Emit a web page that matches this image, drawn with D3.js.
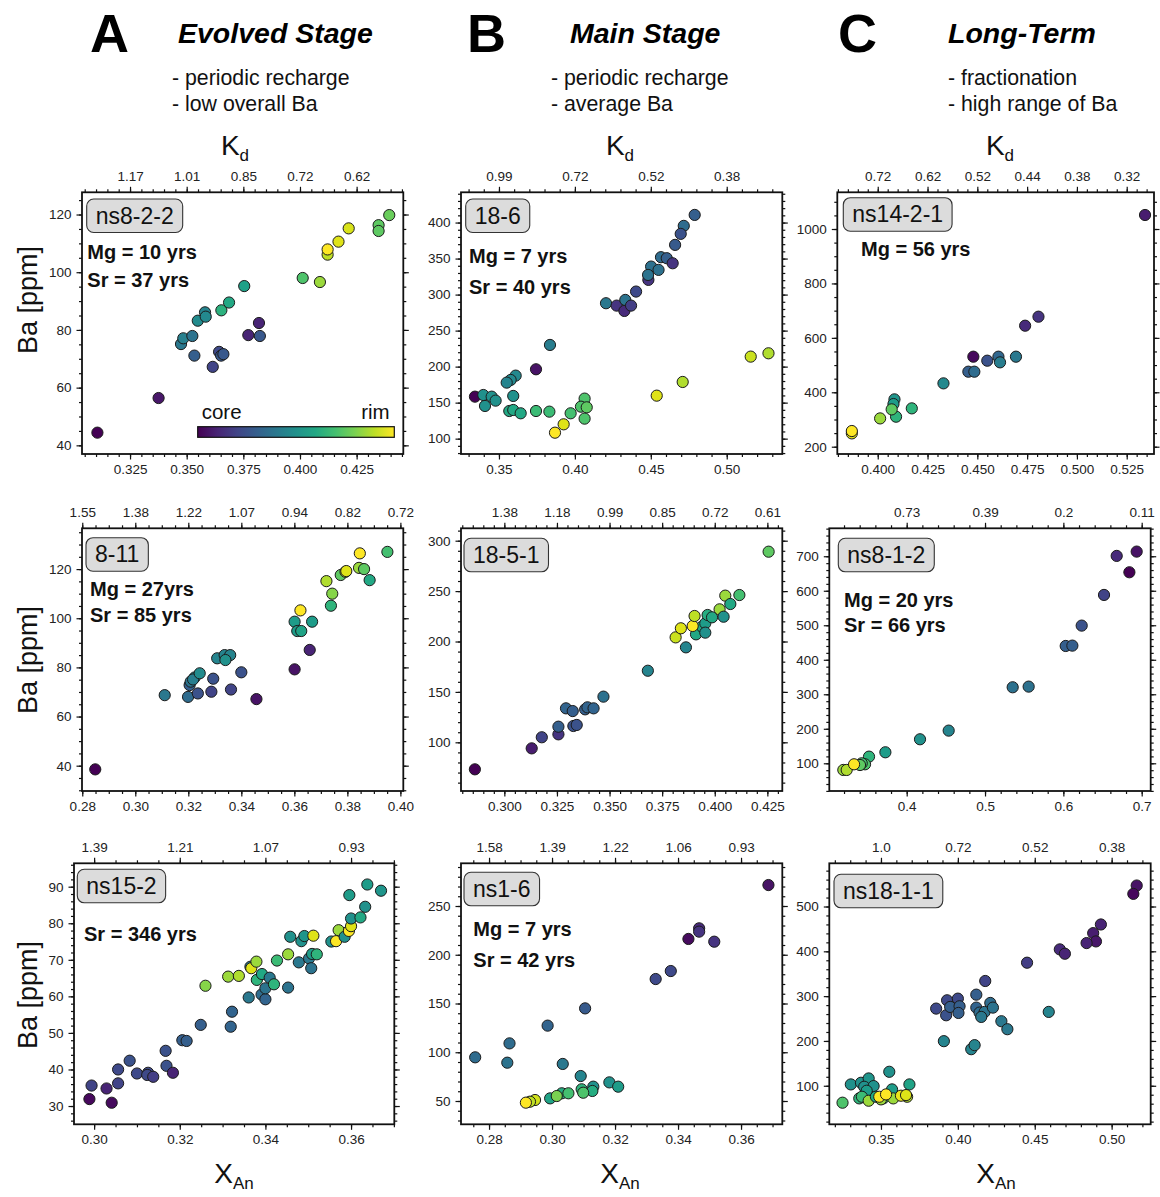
<!DOCTYPE html>
<html>
<head>
<meta charset="utf-8">
<script src="https://cdn.jsdelivr.net/npm/d3@7"></script>
<style>
  body { margin: 0; background: #fff; }
  svg text { font-family: "Liberation Sans", Arial, Helvetica, sans-serif; }
</style>
</head>
<body>
<svg id="chart" width="1160" height="1197"></svg>
<script>
// ---------- measurements: [X_An, Ba (ppm), core→rim position 0..1] ----------
const ns8_2_2 = [
  [0.3106,44.4,0.0],[0.3376,56.4,0.06],[0.3475,75.1,0.4],[0.3485,77.1,0.43],[0.3525,77.9,0.38],
  [0.3534,71.1,0.3],[0.3549,83.2,0.48],[0.3581,86.1,0.45],[0.3584,84.6,0.47],[0.3615,67.2,0.2],
  [0.3643,72.4,0.22],[0.3652,71.1,0.27],[0.3662,71.6,0.27],[0.3653,86.8,0.64],[0.3687,89.5,0.6],
  [0.3754,95.2,0.57],[0.3772,78.2,0.1],[0.3819,82.4,0.1],[0.3823,77.9,0.27],[0.4012,98.0,0.72],
  [0.4088,96.6,0.85],[0.4122,106.1,0.9],[0.4122,107.9,1.0],[0.4170,110.6,0.95],[0.4215,115.2,0.94],
  [0.4347,116.3,0.75],[0.4347,114.3,0.75],[0.4394,119.8,0.77]
];
const s18_6 = [
  [0.4789,410.6,0.3],[0.4717,395.4,0.35],[0.4697,384.3,0.25],[0.4660,369.0,0.28],[0.4567,351.9,0.35],
  [0.4605,350.5,0.3],[0.4644,343.5,0.15],[0.4502,338.9,0.37],[0.4551,334.3,0.37],[0.4484,320.4,0.15],
  [0.4482,327.3,0.38],[0.4403,304.2,0.22],[0.4205,288.0,0.4],[0.4275,284.7,0.15],[0.4326,277.3,0.12],
  [0.4332,292.6,0.38],[0.4370,284.7,0.18],[0.3836,230.1,0.42],[0.3744,196.3,0.05],[0.3610,187.5,0.47],
  [0.3577,181.5,0.47],[0.3551,177.8,0.45],[0.3342,158.3,0.0],[0.3397,160.6,0.5],[0.3452,158.3,0.5],
  [0.3478,152.8,0.5],[0.3408,145.4,0.5],[0.3594,159.3,0.5],[0.3568,138.4,0.6],[0.3594,139.8,0.6],
  [0.3643,135.2,0.6],[0.3744,138.4,0.68],[0.3832,137.5,0.68],[0.3972,135.2,0.7],[0.3869,108.3,1.0],
  [0.3926,119.9,0.95],[0.4064,155.6,0.72],[0.4040,144.4,0.72],[0.4078,143.5,0.75],[0.4064,127.8,0.72],
  [0.4539,159.7,0.95],[0.4710,178.7,0.88],[0.5158,213.9,0.92],[0.5275,218.5,0.88]
];
const ns14_2_1 = [
  [0.5342,1051.5,0.08],[0.4807,677.8,0.15],[0.4740,644.7,0.12],[0.4480,530.8,0.02],[0.4550,516.1,0.25],
  [0.4606,530.8,0.33],[0.4614,510.0,0.42],[0.4694,530.8,0.4],[0.4455,475.7,0.3],[0.4485,475.7,0.35],
  [0.4330,432.8,0.47],[0.4084,374.0,0.52],[0.4079,356.8,0.55],[0.4092,310.3,0.65],[0.4171,340.9,0.65],
  [0.4070,337.2,0.75],[0.4012,304.0,0.85],[0.3870,249.0,0.95],[0.3870,257.6,1.0]
];
const s8_11 = [
  [0.2849,38.5,0.0],[0.3111,68.7,0.4],[0.3199,68.0,0.35],[0.3236,69.4,0.25],[0.3205,72.8,0.3],
  [0.3209,74.2,0.38],[0.3224,75.9,0.45],[0.3218,75.1,0.42],[0.3243,77.6,0.48],[0.3287,70.1,0.2],
  [0.3294,75.4,0.25],[0.3309,83.7,0.45],[0.3337,85.0,0.45],[0.3358,85.0,0.45],[0.3340,83.0,0.5],
  [0.3361,71.0,0.2],[0.3400,78.0,0.25],[0.3457,67.1,0.05],[0.3601,79.2,0.05],[0.3658,87.1,0.1],
  [0.3601,98.6,0.55],[0.3611,94.8,0.55],[0.3626,94.8,0.58],[0.3667,98.6,0.55],[0.3623,103.2,1.0],
  [0.3721,115.1,0.88],[0.3738,105.1,0.65],[0.3743,110.0,0.82],[0.3775,117.6,0.75],[0.3793,118.9,0.9],
  [0.3796,119.2,0.95],[0.3847,126.4,1.0],[0.3844,120.5,0.85],[0.3863,120.0,0.75],[0.3884,115.5,0.6],
  [0.3951,127.0,0.7]
];
const s18_5_1 = [
  [0.2860,73.2,0.0],[0.3130,94.0,0.08],[0.3178,105.0,0.2],[0.3257,107.9,0.15],[0.3257,115.5,0.3],
  [0.3328,116.2,0.25],[0.3344,117.2,0.25],[0.3293,133.7,0.32],[0.3325,131.0,0.3],[0.3384,132.7,0.3],
  [0.3395,134.7,0.32],[0.3424,133.7,0.32],[0.3471,145.3,0.37],[0.3682,171.0,0.45],[0.3863,194.2,0.45],
  [0.3814,204.1,0.92],[0.3839,213.1,0.95],[0.3911,207.1,0.6],[0.3939,214.7,0.6],[0.3955,218.0,0.55],
  [0.3955,208.8,0.5],[0.3895,215.4,1.0],[0.3904,225.3,0.9],[0.3966,226.3,0.62],[0.3987,224.0,0.6],
  [0.4023,231.9,0.85],[0.4042,224.6,0.5],[0.4050,245.5,0.85],[0.4074,237.2,0.6],[0.4117,246.1,0.7],
  [0.4256,289.1,0.75]
];
const ns8_1_2 = [
  [0.6936,713.5,0.05],[0.6681,701.0,0.12],[0.6843,653.6,0.0],[0.6519,587.9,0.2],[0.6234,499.0,0.25],
  [0.6030,440.0,0.3],[0.6115,441.0,0.3],[0.5353,320.3,0.37],[0.5557,322.2,0.37],[0.4536,194.7,0.45],
  [0.4170,169.6,0.5],[0.3728,131.9,0.55],[0.3519,119.3,0.65],[0.3468,97.1,0.72],[0.3426,100.0,0.7],
  [0.3404,95.0,0.75],[0.3191,80.7,0.85],[0.3234,80.7,0.88],[0.3328,97.1,1.0]
];
const ns15_2 = [
  [0.2989,31.9,0.02],[0.2994,35.6,0.2],[0.3029,34.8,0.1],[0.3041,30.9,0.03],[0.3056,36.2,0.2],
  [0.3056,40.0,0.22],[0.3083,42.4,0.25],[0.3100,38.9,0.22],[0.3126,39.1,0.22],[0.3124,38.5,0.22],
  [0.3138,38.0,0.18],[0.3167,45.1,0.25],[0.3169,41.0,0.25],[0.3184,39.1,0.1],[0.3206,48.0,0.3],
  [0.3216,47.8,0.3],[0.3249,52.2,0.3],[0.3260,62.9,0.82],[0.3319,51.7,0.32],[0.3322,55.8,0.32],
  [0.3313,65.4,0.85],[0.3338,65.6,0.88],[0.3361,59.7,0.4],[0.3365,68.1,0.4],[0.3367,67.7,0.95],
  [0.3379,69.5,0.85],[0.3380,64.5,0.65],[0.3392,66.1,0.6],[0.3391,60.5,0.35],[0.3400,59.2,0.32],
  [0.3400,62.2,0.38],[0.3410,65.1,0.4],[0.3420,63.3,0.65],[0.3427,69.8,0.68],[0.3453,62.4,0.38],
  [0.3453,71.5,0.85],[0.3458,76.3,0.5],[0.3478,69.3,0.4],[0.3484,75.1,0.5],[0.3491,76.5,0.52],
  [0.3502,70.4,0.4],[0.3507,67.7,0.38],[0.3509,71.6,0.55],[0.3520,71.5,0.65],[0.3512,76.6,0.95],
  [0.3554,75.0,0.5],[0.3565,75.1,1.0],[0.3571,78.1,0.85],[0.3585,76.3,0.5],[0.3595,77.9,1.0],
  [0.3600,79.2,0.95],[0.3600,81.3,0.5],[0.3622,81.6,0.6],[0.3596,87.7,0.55],[0.3633,84.5,0.5],
  [0.3638,90.6,0.55],[0.3670,88.9,0.52]
];
const ns1_6 = [
  [0.3687,271.5,0.05],[0.3467,227.1,0.12],[0.3467,223.7,0.15],[0.3433,216.2,0.03],[0.3515,213.4,0.15],
  [0.3329,175.1,0.22],[0.3377,183.3,0.22],[0.3105,145.0,0.28],[0.2986,127.3,0.32],[0.2865,109.1,0.35],
  [0.2756,94.8,0.35],[0.2858,89.3,0.38],[0.3034,88.0,0.4],[0.3091,75.6,0.45],[0.3131,64.7,0.5],
  [0.3182,69.1,0.5],[0.3210,64.7,0.55],[0.3128,60.3,0.62],[0.3094,62.0,0.65],[0.3099,58.5,0.72],
  [0.3031,57.9,0.62],[0.3052,57.9,0.7],[0.2994,52.7,0.58],[0.3015,55.1,0.8],[0.2946,51.0,0.93],
  [0.2930,49.3,0.9],[0.2917,48.3,1.0]
];
const ns18_1_1 = [
  [0.5163,546.8,0.05],[0.5141,528.2,0.02],[0.4930,459.9,0.1],[0.4880,440.6,0.08],[0.4898,422.1,0.06],
  [0.4837,418.4,0.1],[0.4663,404.3,0.12],[0.4696,394.6,0.1],[0.4450,374.6,0.18],[0.4178,333.8,0.2],
  [0.4120,303.3,0.3],[0.3859,272.2,0.22],[0.3930,290.7,0.22],[0.4000,294.4,0.22],[0.3924,257.3,0.25],
  [0.3950,275.9,0.3],[0.4011,277.4,0.3],[0.4004,262.5,0.3],[0.4120,274.4,0.32],[0.4141,263.3,0.35],
  [0.4174,264.8,0.38],[0.4152,253.6,0.4],[0.4211,284.8,0.35],[0.4228,274.4,0.38],[0.4283,244.0,0.4],
  [0.4322,226.2,0.4],[0.4591,264.8,0.45],[0.3909,199.5,0.45],[0.4087,181.6,0.45],[0.4109,190.6,0.45],
  [0.3250,62.2,0.72],[0.3304,103.0,0.5],[0.3370,106.7,0.5],[0.3420,116.3,0.52],[0.3391,97.8,0.5],
  [0.3452,99.3,0.5],[0.3407,88.9,0.55],[0.3359,71.8,0.65],[0.3376,75.5,0.68],[0.3420,66.6,0.85],
  [0.3467,75.5,0.6],[0.3554,131.2,0.5],[0.3572,91.9,0.55],[0.3685,103.0,0.58],[0.3515,71.8,0.68],
  [0.3500,69.6,0.85],[0.3580,71.8,0.85],[0.3670,75.5,0.88],[0.3489,75.5,1.0],[0.3533,80.7,1.0],
  [0.3630,77.8,0.97],[0.3663,79.2,0.95]
];

// ---------- axis tick values and labels ----------
const xTicks_ns8_2_2 = [0.325, 0.35, 0.375, 0.4, 0.425];
const xLab_ns8_2_2   = ["0.325","0.350","0.375","0.400","0.425"];
const kd_ns8_2_2     = ["1.17","1.01","0.85","0.72","0.62"];
const yTicks_ns8_2_2 = [40, 60, 80, 100, 120];

const xTicks_18_6 = [0.35, 0.40, 0.45, 0.50];
const xLab_18_6   = ["0.35","0.40","0.45","0.50"];
const kd_18_6     = ["0.99","0.72","0.52","0.38"];
const yTicks_18_6 = [100, 150, 200, 250, 300, 350, 400];

const xTicks_ns14_2_1 = [0.4, 0.425, 0.45, 0.475, 0.5, 0.525];
const xLab_ns14_2_1   = ["0.400","0.425","0.450","0.475","0.500","0.525"];
const kd_ns14_2_1     = ["0.72","0.62","0.52","0.44","0.38","0.32"];
const yTicks_ns14_2_1 = [200, 400, 600, 800, 1000];

const xTicks_8_11 = [0.28, 0.30, 0.32, 0.34, 0.36, 0.38, 0.40];
const xLab_8_11   = ["0.28","0.30","0.32","0.34","0.36","0.38","0.40"];
const kd_8_11     = ["1.55","1.38","1.22","1.07","0.94","0.82","0.72"];
const yTicks_8_11 = [40, 60, 80, 100, 120];

const xTicks_18_5_1 = [0.3, 0.325, 0.35, 0.375, 0.4, 0.425];
const xLab_18_5_1   = ["0.300","0.325","0.350","0.375","0.400","0.425"];
const kd_18_5_1     = ["1.38","1.18","0.99","0.85","0.72","0.61"];
const yTicks_18_5_1 = [100, 150, 200, 250, 300];

const xTicks_ns8_1_2 = [0.4, 0.5, 0.6, 0.7];
const xLab_ns8_1_2   = ["0.4","0.5","0.6","0.7"];
const kd_ns8_1_2     = ["0.73","0.39","0.2","0.11"];
const yTicks_ns8_1_2 = [100, 200, 300, 400, 500, 600, 700];

const xTicks_ns15_2 = [0.30, 0.32, 0.34, 0.36];
const xLab_ns15_2   = ["0.30","0.32","0.34","0.36"];
const kd_ns15_2     = ["1.39","1.21","1.07","0.93"];
const yTicks_ns15_2 = [30, 40, 50, 60, 70, 80, 90];

const xTicks_ns1_6 = [0.28, 0.30, 0.32, 0.34, 0.36];
const xLab_ns1_6   = ["0.28","0.30","0.32","0.34","0.36"];
const kd_ns1_6     = ["1.58","1.39","1.22","1.06","0.93"];
const yTicks_ns1_6 = [50, 100, 150, 200, 250];

const xTicks_ns18_1_1 = [0.35, 0.40, 0.45, 0.50];
const xLab_ns18_1_1   = ["0.35","0.40","0.45","0.50"];
const kd_ns18_1_1     = ["1.0","0.72","0.52","0.38"];
const yTicks_ns18_1_1 = [100, 200, 300, 400, 500];

// ---------- column headers ----------
const columns = [
  { letter: "A", title: "Evolved Stage", notes: ["- periodic recharge", "- low overall Ba"] },
  { letter: "B", title: "Main Stage",    notes: ["- periodic recharge", "- average Ba"] },
  { letter: "C", title: "Long-Term",     notes: ["- fractionation", "- high range of Ba"] }
];

// ---------- panel layout ----------
const panels = [
  { name: "ns8-2-2", data: ns8_2_2, box: [82, 192.3, 321.3, 261.7], xDom: [0.3038, 0.4456], yDom: [37, 127.7],
    xT: xTicks_ns8_2_2, xL: xLab_ns8_2_2, kd: kd_ns8_2_2, yT: yTicks_ns8_2_2, xMinor: 0.005, yMinor: 5,
    tag: [4.7, 6.7], ages: ["Mg = 10 yrs", "Sr = 37 yrs"], ageAt: [5.3, 66.7, 28] , colorbar: true },
  { name: "18-6", data: s18_6, box: [461, 192.3, 321.3, 261.7], xDom: [0.325, 0.5366], yDom: [78.7, 442],
    xT: xTicks_18_6, xL: xLab_18_6, kd: kd_18_6, yT: yTicks_18_6, xMinor: 0.01, yMinor: 10,
    tag: [4.7, 6.7], ages: ["Mg = 7 yrs", "Sr = 40 yrs"], ageAt: [8, 71, 31] },
  { name: "ns14-2-1", data: ns14_2_1, box: [837.3, 192.3, 316.7, 261.7], xDom: [0.3797, 0.5387], yDom: [173.2, 1134.9],
    xT: xTicks_ns14_2_1, xL: xLab_ns14_2_1, kd: kd_ns14_2_1, yT: yTicks_ns14_2_1, xMinor: 0.005, yMinor: 50,
    tag: [6, 5.4], ages: ["Mg = 56 yrs"], ageAt: [23.7, 63.7, 28] },
  { name: "8-11", data: s8_11, box: [82, 528.3, 321.3, 262.7], xDom: [0.2799, 0.4011], yDom: [29.7, 136.6],
    xT: xTicks_8_11, xL: xLab_8_11, kd: kd_8_11, yT: yTicks_8_11, xMinor: 0.005, yMinor: 5,
    tag: [4, 9.4], ages: ["Mg = 27yrs", "Sr = 85 yrs"], ageAt: [8, 67.4, 26.6] },
  { name: "18-5-1", data: s18_5_1, box: [461, 528.3, 321.3, 262.7], xDom: [0.2794, 0.4321], yDom: [51.7, 312.3],
    xT: xTicks_18_5_1, xL: xLab_18_5_1, kd: kd_18_5_1, yT: yTicks_18_5_1, xMinor: 0.005, yMinor: 10,
    tag: [3, 10], ages: [], ageAt: [0, 0, 0] },
  { name: "ns8-1-2", data: ns8_1_2, box: [829.3, 528.3, 321.4, 262.7], xDom: [0.3012, 0.7115], yDom: [19.7, 781],
    xT: xTicks_ns8_1_2, xL: xLab_ns8_1_2, kd: kd_ns8_1_2, yT: yTicks_ns8_1_2, xMinor: 0.02, yMinor: 20,
    tag: [9, 10], ages: ["Mg = 20 yrs", "Sr = 66 yrs"], ageAt: [14.7, 78.4, 25] },
  { name: "ns15-2", data: ns15_2, box: [74, 863.3, 320.3, 261], xDom: [0.2953, 0.3701], yDom: [25, 96.4],
    xT: xTicks_ns15_2, xL: xLab_ns15_2, kd: kd_ns15_2, yT: yTicks_ns15_2, xMinor: 0.005, yMinor: 2,
    tag: [3.3, 6], ages: ["Sr = 346 yrs"], ageAt: [10, 77.4, 0] },
  { name: "ns1-6", data: ns1_6, box: [461, 863.3, 321.3, 261], xDom: [0.2711, 0.3731], yDom: [26.1, 293.8],
    xT: xTicks_ns1_6, xL: xLab_ns1_6, kd: kd_ns1_6, yT: yTicks_ns1_6, xMinor: 0.005, yMinor: 10,
    tag: [3, 9], ages: ["Mg = 7 yrs", "Sr = 42 yrs"], ageAt: [12.3, 72.7, 30.7] },
  { name: "ns18-1-1", data: ns18_1_1, box: [829.3, 863.3, 321.4, 261], xDom: [0.3164, 0.5254], yDom: [14, 596.4],
    xT: xTicks_ns18_1_1, xL: xLab_ns18_1_1, kd: kd_ns18_1_1, yT: yTicks_ns18_1_1, xMinor: 0.01, yMinor: 20,
    tag: [4.7, 11], ages: [], ageAt: [0, 0, 0] }
];

const svg = d3.select("#chart");
const INK = "#111";
const color = d3.interpolateViridis;

// gradient for the core→rim colour bar
const grad = svg.append("defs").append("linearGradient").attr("id", "viridisBar");
d3.range(0, 1.0001, 0.1).forEach(t => {
  grad.append("stop").attr("offset", `${t * 100}%`).attr("stop-color", color(t));
});

function minorValues(dom, step) {
  const lo = Math.ceil(dom[0] / step - 1e-6), hi = Math.floor(dom[1] / step + 1e-6);
  return d3.range(lo, hi + 1).map(k => +(k * step).toFixed(6));
}

function styleAxis(sel, fontSize) {
  sel.select(".domain").remove();
  sel.selectAll("line").attr("stroke", INK).attr("stroke-width", 1.2);
  sel.selectAll("text").attr("fill", "#222").attr("font-size", fontSize)
     .attr("font-family", '"Liberation Sans", Arial, sans-serif');
}

panels.forEach(p => {
  const [px, py, pw, ph] = p.box;
  const g = svg.append("g").attr("transform", `translate(${px},${py})`);
  const x = d3.scaleLinear().domain(p.xDom).range([0, pw]);
  const y = d3.scaleLinear().domain(p.yDom).range([ph, 0]);

  const xm = minorValues(p.xDom, p.xMinor);
  const ym = minorValues(p.yDom, p.yMinor);

  // minor ticks on all four sides
  g.append("g").attr("transform", `translate(0,${ph})`)
    .call(d3.axisBottom(x).tickValues(xm).tickSize(3).tickFormat("")).call(styleAxis, 13);
  g.append("g").call(d3.axisTop(x).tickValues(xm).tickSize(3).tickFormat("")).call(styleAxis, 13);
  g.append("g").call(d3.axisLeft(y).tickValues(ym).tickSize(3).tickFormat("")).call(styleAxis, 13);
  g.append("g").attr("transform", `translate(${pw},0)`)
    .call(d3.axisRight(y).tickValues(ym).tickSize(3).tickFormat("")).call(styleAxis, 13);

  // major ticks: X_An below, Kd above, Ba at left, unlabeled at right
  g.append("g").attr("transform", `translate(0,${ph})`)
    .call(d3.axisBottom(x).tickValues(p.xT).tickSize(5.5).tickPadding(5).tickFormat((d, i) => p.xL[i]))
    .call(styleAxis, 13.5);
  g.append("g")
    .call(d3.axisTop(x).tickValues(p.xT).tickSize(5.5).tickPadding(6).tickFormat((d, i) => p.kd[i]))
    .call(styleAxis, 13.5);
  g.append("g")
    .call(d3.axisLeft(y).tickValues(p.yT).tickSize(5.5).tickPadding(5).tickFormat(d3.format("d")))
    .call(styleAxis, 13.5);
  g.append("g").attr("transform", `translate(${pw},0)`)
    .call(d3.axisRight(y).tickValues(p.yT).tickSize(5.5).tickFormat(""))
    .call(styleAxis, 13.5);

  // points
  g.append("g").selectAll("circle").data(p.data).join("circle")
    .attr("cx", d => x(d[0])).attr("cy", d => y(d[1])).attr("r", 5.6)
    .attr("fill", d => color(d[2])).attr("stroke", "#1b1b1b").attr("stroke-width", 1);

  // frame
  g.append("rect").attr("width", pw).attr("height", ph)
    .attr("fill", "none").attr("stroke", INK).attr("stroke-width", 1.8);

  // sample tag
  const tag = g.append("g").attr("transform", `translate(${p.tag[0]},${p.tag[1]})`);
  const tt = tag.append("text").attr("x", 9).attr("y", 24.5).attr("font-size", 23).attr("fill", INK).text(p.name);
  const tw = tt.node().getComputedTextLength();
  tag.insert("rect", "text").attr("width", tw + 18).attr("height", 33.5).attr("rx", 7)
    .attr("fill", "#dcdcdc").attr("stroke", "#333").attr("stroke-width", 1.1);

  // diffusion timescales
  p.ages.forEach((s, i) => {
    g.append("text").attr("x", p.ageAt[0]).attr("y", p.ageAt[1] + i * p.ageAt[2])
      .attr("font-size", 20).attr("font-weight", "bold").attr("fill", INK).text(s);
  });

  // core→rim colour bar
  if (p.colorbar) {
    const cb = g.append("g").attr("transform", `translate(${197.7 - px},${426.7 - py})`);
    cb.append("rect").attr("width", 196.6).attr("height", 10.6)
      .attr("fill", "url(#viridisBar)").attr("stroke", INK).attr("stroke-width", 1.2);
    cb.append("text").attr("x", 4).attr("y", -8).attr("font-size", 20.5).attr("fill", INK).text("core");
    cb.append("text").attr("x", 192).attr("y", -8).attr("text-anchor", "end").attr("font-size", 20.5).attr("fill", INK).text("rim");
  }
});

// ---------- headers ----------
const headX = [[90, 178, 172], [467, 570, 551], [838, 948, 948]];
columns.forEach((c, i) => {
  const [lx, tx, nx] = headX[i];
  svg.append("text").attr("x", lx).attr("y", 52).attr("font-size", 54).attr("font-weight", "bold")
    .attr("fill", "#000").text(c.letter);
  svg.append("text").attr("x", tx).attr("y", 43).attr("font-size", 28.5).attr("font-weight", "bold")
    .attr("font-style", "italic").attr("fill", "#000").text(c.title);
  c.notes.forEach((n, j) => {
    svg.append("text").attr("x", nx).attr("y", 85 + j * 26).attr("font-size", 21.3).attr("fill", INK).text(n);
  });
});

// Kd titles above top row, X_An titles below bottom row
[235, 620, 1000].forEach(cx => {
  const t = svg.append("text").attr("x", cx).attr("y", 155).attr("text-anchor", "middle")
    .attr("font-size", 28).attr("fill", INK);
  t.append("tspan").text("K");
  t.append("tspan").attr("font-size", 17).attr("dy", 6).text("d");
});
[234, 620, 996].forEach(cx => {
  const t = svg.append("text").attr("x", cx).attr("y", 1183).attr("text-anchor", "middle")
    .attr("font-size", 28).attr("fill", INK);
  t.append("tspan").text("X");
  t.append("tspan").attr("font-size", 17).attr("dy", 6).text("An");
});

// Ba axis titles
[300, 660, 995].forEach(cy => {
  svg.append("text").attr("transform", `translate(37,${cy}) rotate(-90)`).attr("text-anchor", "middle")
    .attr("font-size", 27).attr("fill", INK).text("Ba [ppm]");
});
</script>
</body>
</html>
